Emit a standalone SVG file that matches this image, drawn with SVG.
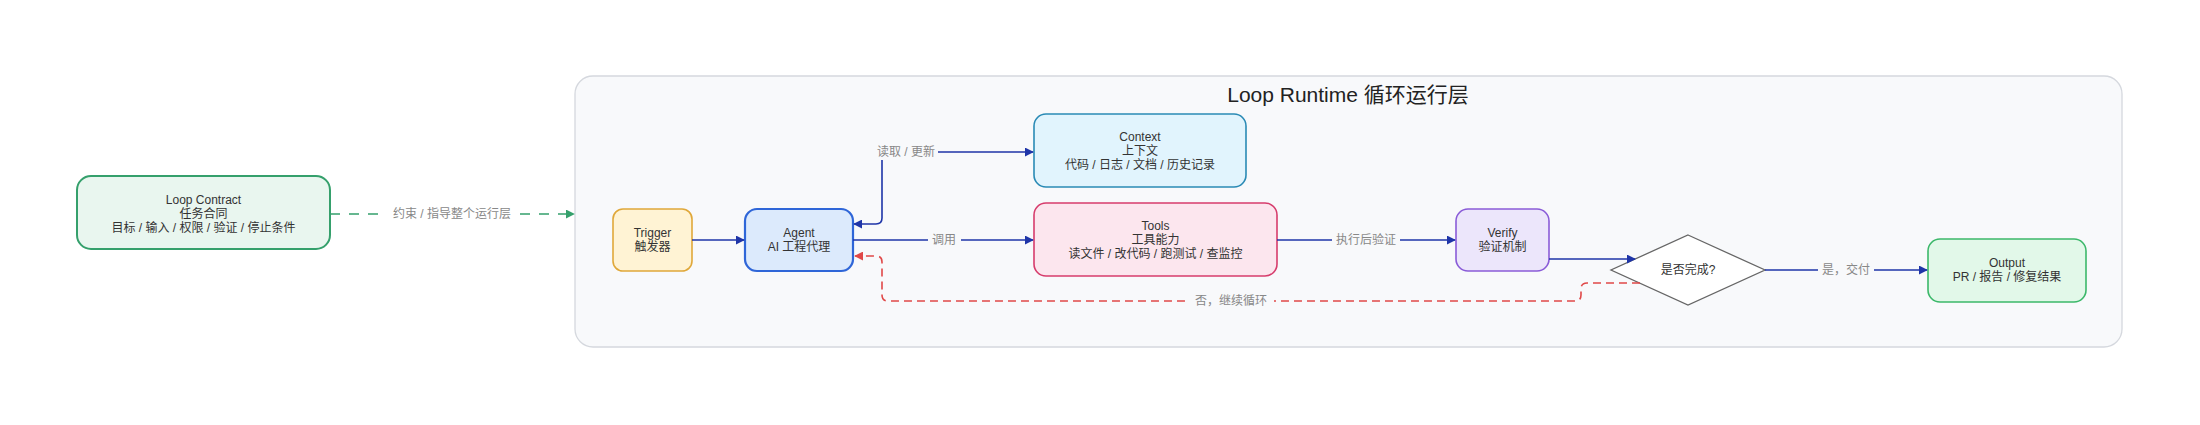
<svg xmlns="http://www.w3.org/2000/svg" width="2200" height="425" viewBox="0 0 2200 425">
<style>
.t{font-family:"Liberation Sans","Noto Sans CJK SC",sans-serif;font-size:12px;fill:#333;text-anchor:middle;dominant-baseline:central}
.lbl{font-family:"Liberation Sans","Noto Sans CJK SC",sans-serif;font-size:12px;fill:#888;text-anchor:middle;dominant-baseline:central}
.title{font-family:"Liberation Sans","Noto Sans CJK SC",sans-serif;font-size:21px;fill:#222;text-anchor:middle;dominant-baseline:central}
.blue{fill:none;stroke:#1f35a8;stroke-width:1.6}
.red{fill:none;stroke:#e04848;stroke-width:1.6;stroke-dasharray:8 5}
.green{fill:none;stroke:#35a06c;stroke-width:1.6;stroke-dasharray:10 9}
.lbg{fill:#f8f9fb}
</style>
<defs>
<marker id="ab" viewBox="0 0 10 10" refX="9" refY="5" markerWidth="9" markerHeight="9" markerUnits="userSpaceOnUse" orient="auto-start-reverse"><path d="M0,0 L10,5 L0,10 z" fill="#1f35a8"/></marker>
<marker id="ar" viewBox="0 0 10 10" refX="9" refY="5" markerWidth="9" markerHeight="9" markerUnits="userSpaceOnUse" orient="auto"><path d="M0,0 L10,5 L0,10 z" fill="#e04848"/></marker>
<marker id="ag" viewBox="0 0 10 10" refX="9" refY="5" markerWidth="9" markerHeight="9" markerUnits="userSpaceOnUse" orient="auto"><path d="M0,0 L10,5 L0,10 z" fill="#35a06c"/></marker>
</defs>
<rect width="2200" height="425" fill="#ffffff"/>

<g id="runtime">
<rect x="575" y="76" width="1547" height="271" rx="18" fill="#f8f9fb" stroke="#d5d8de" stroke-width="1.3"/>
<text class="title" x="1348" y="94">Loop Runtime 循环运行层</text>
</g>

<g id="contract">
<rect x="77" y="176" width="253" height="73" rx="14" fill="#e9f6ef" stroke="#35a06c" stroke-width="2"/>
<text class="t" x="203.5" y="200">Loop Contract</text>
<text class="t" x="203.5" y="214">任务合同</text>
<text class="t" x="203.5" y="228">目标 / 输入 / 权限 / 验证 / 停止条件</text>
</g>

<g id="trigger">
<rect x="613" y="209" width="79" height="62" rx="10" fill="#fff3d4" stroke="#e0a83a" stroke-width="1.6"/>
<text class="t" x="652.5" y="233">Trigger</text>
<text class="t" x="652.5" y="247">触发器</text>
</g>

<g id="agent">
<rect x="745" y="209" width="108" height="62" rx="12" fill="#dceafc" stroke="#2f66d8" stroke-width="2.2"/>
<text class="t" x="799" y="233">Agent</text>
<text class="t" x="799" y="247">AI 工程代理</text>
</g>

<g id="context">
<rect x="1034" y="114" width="212" height="73" rx="12" fill="#e1f4fd" stroke="#2a8ab5" stroke-width="1.6"/>
<text class="t" x="1140" y="137">Context</text>
<text class="t" x="1140" y="151">上下文</text>
<text class="t" x="1140" y="165">代码 / 日志 / 文档 / 历史记录</text>
</g>

<g id="tools">
<rect x="1034" y="203" width="243" height="73" rx="12" fill="#fce6ee" stroke="#d63c6c" stroke-width="1.6"/>
<text class="t" x="1155.5" y="226">Tools</text>
<text class="t" x="1155.5" y="240">工具能力</text>
<text class="t" x="1155.5" y="254">读文件 / 改代码 / 跑测试 / 查监控</text>
</g>

<g id="verify">
<rect x="1456" y="209" width="93" height="62" rx="12" fill="#ece6fb" stroke="#8a5cd8" stroke-width="1.6"/>
<text class="t" x="1502.5" y="233">Verify</text>
<text class="t" x="1502.5" y="247">验证机制</text>
</g>

<g id="decision">
<polygon points="1688,235 1765,270 1688,305 1611,270" fill="#ffffff" stroke="#666" stroke-width="1.3"/>
<text class="t" x="1688" y="270">是否完成?</text>
</g>

<g id="output">
<rect x="1928" y="239" width="158" height="63" rx="12" fill="#e2f8e9" stroke="#3cb86a" stroke-width="1.6"/>
<text class="t" x="2007" y="263">Output</text>
<text class="t" x="2007" y="277">PR / 报告 / 修复结果</text>
</g>

<g id="connectors">
<path class="green" d="M330,214 L574,214" marker-end="url(#ag)"/>
<rect x="386" y="205" width="132" height="18" fill="#ffffff"/>
<text class="lbl" x="452" y="214">约束 / 指导整个运行层</text>

<path class="blue" d="M692,240 L744,240" marker-end="url(#ab)"/>

<path class="blue" d="M1033,152 L882,152 L882,218 Q882,224 876,224 L854,224" marker-start="url(#ab)" marker-end="url(#ab)"/>
<rect class="lbg" x="875" y="144" width="63" height="16"/>
<text class="lbl" x="906" y="152">读取 / 更新</text>

<path class="blue" d="M853,240 L1033,240" marker-end="url(#ab)"/>
<rect class="lbg" x="928" y="232" width="33" height="16"/>
<text class="lbl" x="944" y="240">调用</text>

<path class="blue" d="M1277,240 L1455,240" marker-end="url(#ab)"/>
<rect class="lbg" x="1332" y="232" width="68" height="16"/>
<text class="lbl" x="1366" y="240">执行后验证</text>

<path class="blue" d="M1549,259 L1635,259" marker-end="url(#ab)"/>

<path class="blue" d="M1765,270 L1927,270" marker-end="url(#ab)"/>
<rect class="lbg" x="1818" y="262" width="56" height="16"/>
<text class="lbl" x="1846" y="270">是，交付</text>

<path class="red" d="M1640,283 L1587,283 Q1581,283 1581,289 L1581,295 Q1581,301 1575,301 L888,301 Q882,301 882,295 L882,262 Q882,256 876,256 L855,256" marker-end="url(#ar)"/>
<rect class="lbg" x="1188" y="293" width="86" height="16"/>
<text class="lbl" x="1231" y="301">否，继续循环</text>
</g>
</svg>
